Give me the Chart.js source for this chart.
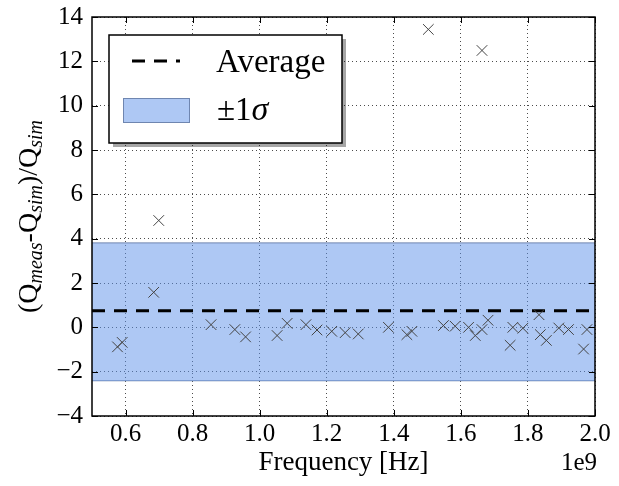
<!DOCTYPE html>
<html>
<head>
<meta charset="utf-8">
<script src="https://cdn.jsdelivr.net/npm/chart.js@4.4.0/dist/chart.umd.min.js"></script>
<style>
  html, body { margin: 0; padding: 0; background: #fff; }
  #wrap { width: 619px; height: 486px; }
</style>
</head>
<body>
<div id="wrap"><canvas id="chart" width="619" height="486"></canvas></div>
<script>
// frequency in units of 1e9 Hz
const freq = [0.576, 0.590, 0.684, 0.699, 0.855, 0.926, 0.958, 1.052, 1.082, 1.138,
  1.171, 1.215, 1.255, 1.294, 1.384, 1.439, 1.454, 1.503, 1.548, 1.583,
  1.623, 1.643, 1.663, 1.663, 1.681, 1.747, 1.755, 1.785, 1.833, 1.837,
  1.855, 1.892, 1.921, 1.966, 1.976];
const relErr = [-0.88, -0.68, 1.58, 4.82, 0.12, -0.10, -0.43, -0.37, 0.18, 0.12,
  -0.12, -0.18, -0.24, -0.30, 0.00, -0.33, -0.18, 13.44, 0.08, 0.05,
  0.00, -0.37, -0.10, 12.49, 0.32, -0.81, 0.00, -0.04, 0.57, -0.33,
  -0.59, -0.03, -0.10, -0.98, -0.10];

const average = 0.75;
const sigmaUpper = 3.81;
const sigmaLower = -2.41;
const xRange = [0.5, 2.0];
const yRange = [-4, 14];
const xTicks = [0.6, 0.8, 1.0, 1.2, 1.4, 1.6, 1.8, 2.0];
const yTicks = [-4, -2, 0, 2, 4, 6, 8, 10, 12, 14];

const serif = "Liberation Serif";
const bandFill = 'rgba(93, 145, 233, 0.5)';

function pts(xs, ys) {
  return xs.map((x, i) => ({ x: x, y: ys[i] }));
}

// inward ticks on all four sides, frame, y title, 1e9, legend
const decor = {
  id: 'decor',
  afterDraw(chart) {
    const ctx = chart.ctx;
    const a = chart.chartArea;
    const xs = chart.scales.x, ys = chart.scales.y;
    ctx.save();
    ctx.strokeStyle = '#000';
    ctx.lineWidth = 1;
    ctx.beginPath();
    xTicks.forEach(v => {
      const px = Math.round(xs.getPixelForValue(v)) + 0.5;
      ctx.moveTo(px, a.bottom); ctx.lineTo(px, a.bottom - 6);
      ctx.moveTo(px, a.top); ctx.lineTo(px, a.top + 6);
    });
    yTicks.forEach(v => {
      const py = Math.round(ys.getPixelForValue(v)) + 0.5;
      ctx.moveTo(a.left, py); ctx.lineTo(a.left + 6, py);
      ctx.moveTo(a.right, py); ctx.lineTo(a.right - 6, py);
    });
    ctx.stroke();
    ctx.lineWidth = 1.5;
    ctx.strokeRect(a.left, a.top, a.right - a.left, a.bottom - a.top);

    // y title with subscripts
    const parts = [
      ['(Q', false], ['meas', true], ['-Q', false], ['sim', true], [')/Q', false], ['sim', true]
    ];
    const big = '28px ' + serif, small = 'italic 20px ' + serif;
    let total = 0;
    parts.forEach(p => { ctx.font = p[1] ? small : big; total += ctx.measureText(p[0]).width; });
    ctx.translate(37, (a.top + a.bottom) / 2);
    ctx.rotate(-Math.PI / 2);
    ctx.fillStyle = '#000';
    ctx.textBaseline = 'alphabetic';
    let cx = -total / 2;
    parts.forEach(p => {
      ctx.font = p[1] ? small : big;
      ctx.fillText(p[0], cx, p[1] ? 5 : 0);
      cx += ctx.measureText(p[0]).width;
    });
    ctx.restore();

    ctx.save();
    ctx.fillStyle = '#000';
    ctx.font = '25px ' + serif;
    ctx.textAlign = 'right';
    ctx.textBaseline = 'middle';
    ctx.fillText('1e9', 597, 463);

    // legend
    const lx = 109, ly = 35, lw = 233, lh = 108;
    ctx.fillStyle = 'rgba(0,0,0,0.35)';
    ctx.fillRect(lx + 4, ly + 4, lw, lh);
    ctx.fillStyle = '#fff';
    ctx.fillRect(lx, ly, lw, lh);
    ctx.strokeStyle = '#000';
    ctx.lineWidth = 1.5;
    ctx.strokeRect(lx, ly, lw, lh);

    ctx.beginPath();
    ctx.setLineDash([13, 9]);
    ctx.lineWidth = 3;
    ctx.moveTo(132, 61); ctx.lineTo(180, 61);
    ctx.stroke();
    ctx.setLineDash([]);

    ctx.fillStyle = bandFill;
    ctx.fillRect(123, 98, 67, 25);
    ctx.strokeStyle = '#6f86b0';
    ctx.lineWidth = 1;
    ctx.strokeRect(123.5, 98.5, 66, 24);

    ctx.fillStyle = '#000';
    ctx.textAlign = 'left';
    ctx.textBaseline = 'middle';
    ctx.font = '33px ' + serif;
    ctx.fillText('Average', 216, 63);
    ctx.fillText('\u00b11', 217, 111);
    const w = ctx.measureText('\u00b11').width;
    ctx.font = 'italic 34px ' + serif;
    ctx.fillText('\u03c3', 217 + w, 111);
    ctx.restore();
  }
};

const chart = new Chart(document.getElementById('chart'), {
  type: 'scatter',
  data: {
    datasets: [
      {
        label: 'data',
        data: pts(freq, relErr),
        pointStyle: 'crossRot',
        pointRadius: 7.5,
        pointBorderColor: '#444',
        pointBorderWidth: 1,
        showLine: false
      },
      {
        label: 'Average',
        type: 'line',
        data: pts(xRange, [average, average]),
        borderColor: '#000',
        borderWidth: 3,
        borderDash: [13, 9],
        pointRadius: 0,
        fill: false
      },
      {
        label: '+sigma',
        type: 'line',
        data: pts(xRange, [sigmaUpper, sigmaUpper]),
        borderColor: '#6f86b0',
        borderWidth: 1,
        pointRadius: 0,
        backgroundColor: bandFill,
        fill: '+1'
      },
      {
        label: '-sigma',
        type: 'line',
        data: pts(xRange, [sigmaLower, sigmaLower]),
        borderColor: '#6f86b0',
        borderWidth: 1,
        pointRadius: 0,
        fill: false
      }
    ]
  },
  options: {
    responsive: false,
    animation: false,
    layout: { padding: { top: 17, right: 24, left: 0, bottom: 0 } },
    plugins: { legend: { display: false }, tooltip: { enabled: false } },
    scales: {
      x: {
        type: 'linear',
        min: xRange[0], max: xRange[1],
        afterBuildTicks: s => { s.ticks = xTicks.map(v => ({ value: v })); },
        afterFit: s => { s.height = 70; s.paddingLeft = 0; s.paddingRight = 0; },
        ticks: {
          color: '#000',
          font: { family: serif, size: 25 },
          padding: 3,
          maxRotation: 0,
          callback: v => v.toFixed(1)
        },
        grid: { color: 'rgba(0,0,0,0.7)', lineWidth: 1, drawTicks: false },
        border: { display: false, dash: [1, 3] },
        title: {
          display: true,
          text: 'Frequency [Hz]',
          color: '#000',
          font: { family: serif, size: 27 },
          padding: { top: 0, bottom: 7 }
        }
      },
      y: {
        type: 'linear',
        min: yRange[0], max: yRange[1],
        afterBuildTicks: s => { s.ticks = yTicks.map(v => ({ value: v })); },
        afterFit: s => { s.width = 92; s.paddingTop = 0; s.paddingBottom = 0; },
        ticks: {
          color: '#000',
          font: { family: serif, size: 25 },
          padding: 9,
          callback: v => String(v).replace('-', '\u2212')
        },
        grid: { color: 'rgba(0,0,0,0.7)', lineWidth: 1, drawTicks: false },
        border: { display: false, dash: [1, 3] }
      }
    }
  },
  plugins: [decor]
});
if (document.fonts) document.fonts.ready.then(() => chart.update());
</script>
</body>
</html>
